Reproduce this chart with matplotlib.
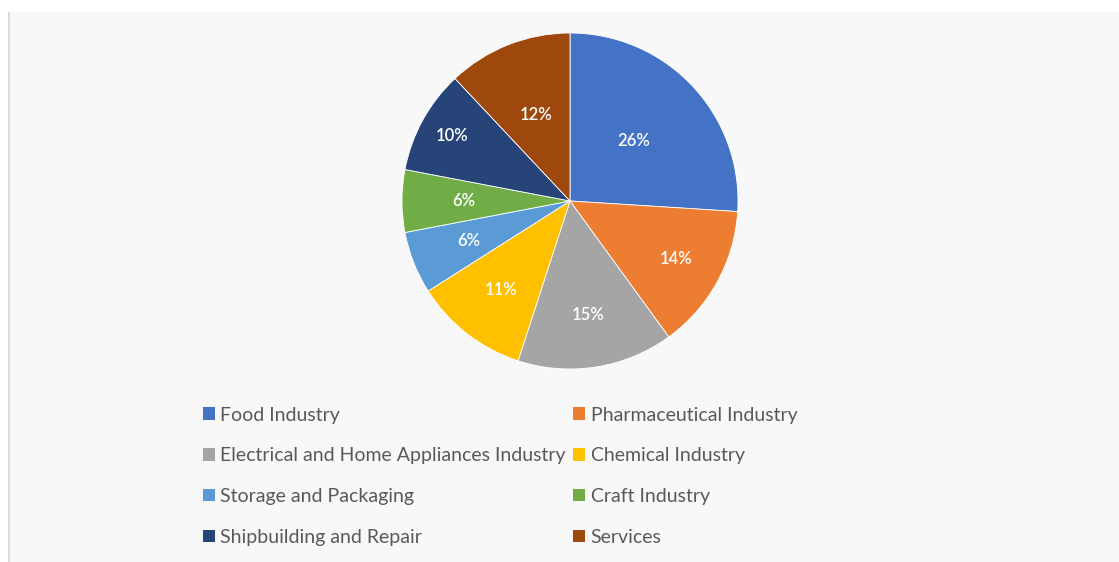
import matplotlib.pyplot as plt
import numpy as np
from matplotlib.patches import Rectangle

plt.rcParams['font.family'] = ['Lato', 'DejaVu Sans']

categories = ['Food Industry', 'Pharmaceutical Industry',
              'Electrical and Home Appliances Industry', 'Chemical Industry',
              'Storage and Packaging', 'Craft Industry',
              'Shipbuilding and Repair', 'Services']
shares = [26, 14, 15, 11, 6, 6, 10, 12]
colors = ['#4472C4', '#ED7D31', '#A5A5A5', '#FFC000',
          '#5B9BD5', '#70AD47', '#264478', '#9E480E']
# radial position of each percentage label (fraction of radius)
label_dist = [0.52, 0.72, 0.69, 0.67, 0.65, 0.63, 0.80, 0.55]

fig = plt.figure(figsize=(11.19, 5.62), dpi=100, facecolor='white')

# light panel with a faint left border
fig.patches.append(Rectangle((9/1119, 0), 1 - 9/1119, 1 - 12/562,
                             transform=fig.transFigure, facecolor='#f8f8f8',
                             edgecolor='none', zorder=-2))
fig.patches.append(Rectangle((8/1119, 0), 2/1119, 1 - 12/562,
                             transform=fig.transFigure, facecolor='#dcdcdc',
                             edgecolor='none', zorder=-1))

# pie axes: centre (570, 201), radius ~168 px
r = 168
ax = fig.add_axes([(570 - r)/1119, 1 - (201 + r)/562, 2*r/1119, 2*r/562])
wedges, _ = ax.pie(shares, colors=colors, startangle=90, counterclock=False,
                   radius=1.0, wedgeprops=dict(linewidth=0.6, edgecolor='white'))
ax.set_aspect('equal')
ax.set_xlim(-1, 1)
ax.set_ylim(-1, 1)

for w, v, d in zip(wedges, shares, label_dist):
    ang = np.deg2rad((w.theta1 + w.theta2) / 2)
    ax.text(d*np.cos(ang), d*np.sin(ang), f'{v}%', ha='center', va='center',
            color='white', fontsize=12, fontweight='semibold')

# legend fills row by row: reorder for matplotlib's column-major layout
order = [0, 2, 4, 6, 1, 3, 5, 7]
handles = [Rectangle((0, 0), 1, 1, facecolor=colors[i], edgecolor='none') for i in order]
labels = [categories[i] for i in order]
leg = fig.legend(handles, labels, ncol=2, loc='upper left',
                 bbox_to_anchor=(185/1119, 1 - 389/562), frameon=False,
                 fontsize=14, handlelength=0.62, handleheight=0.62,
                 handletextpad=0.3, columnspacing=0.35, labelspacing=1.22)
for t in leg.get_texts():
    t.set_color('#595959')

fig.savefig('out.png', dpi=100, facecolor=fig.get_facecolor())
